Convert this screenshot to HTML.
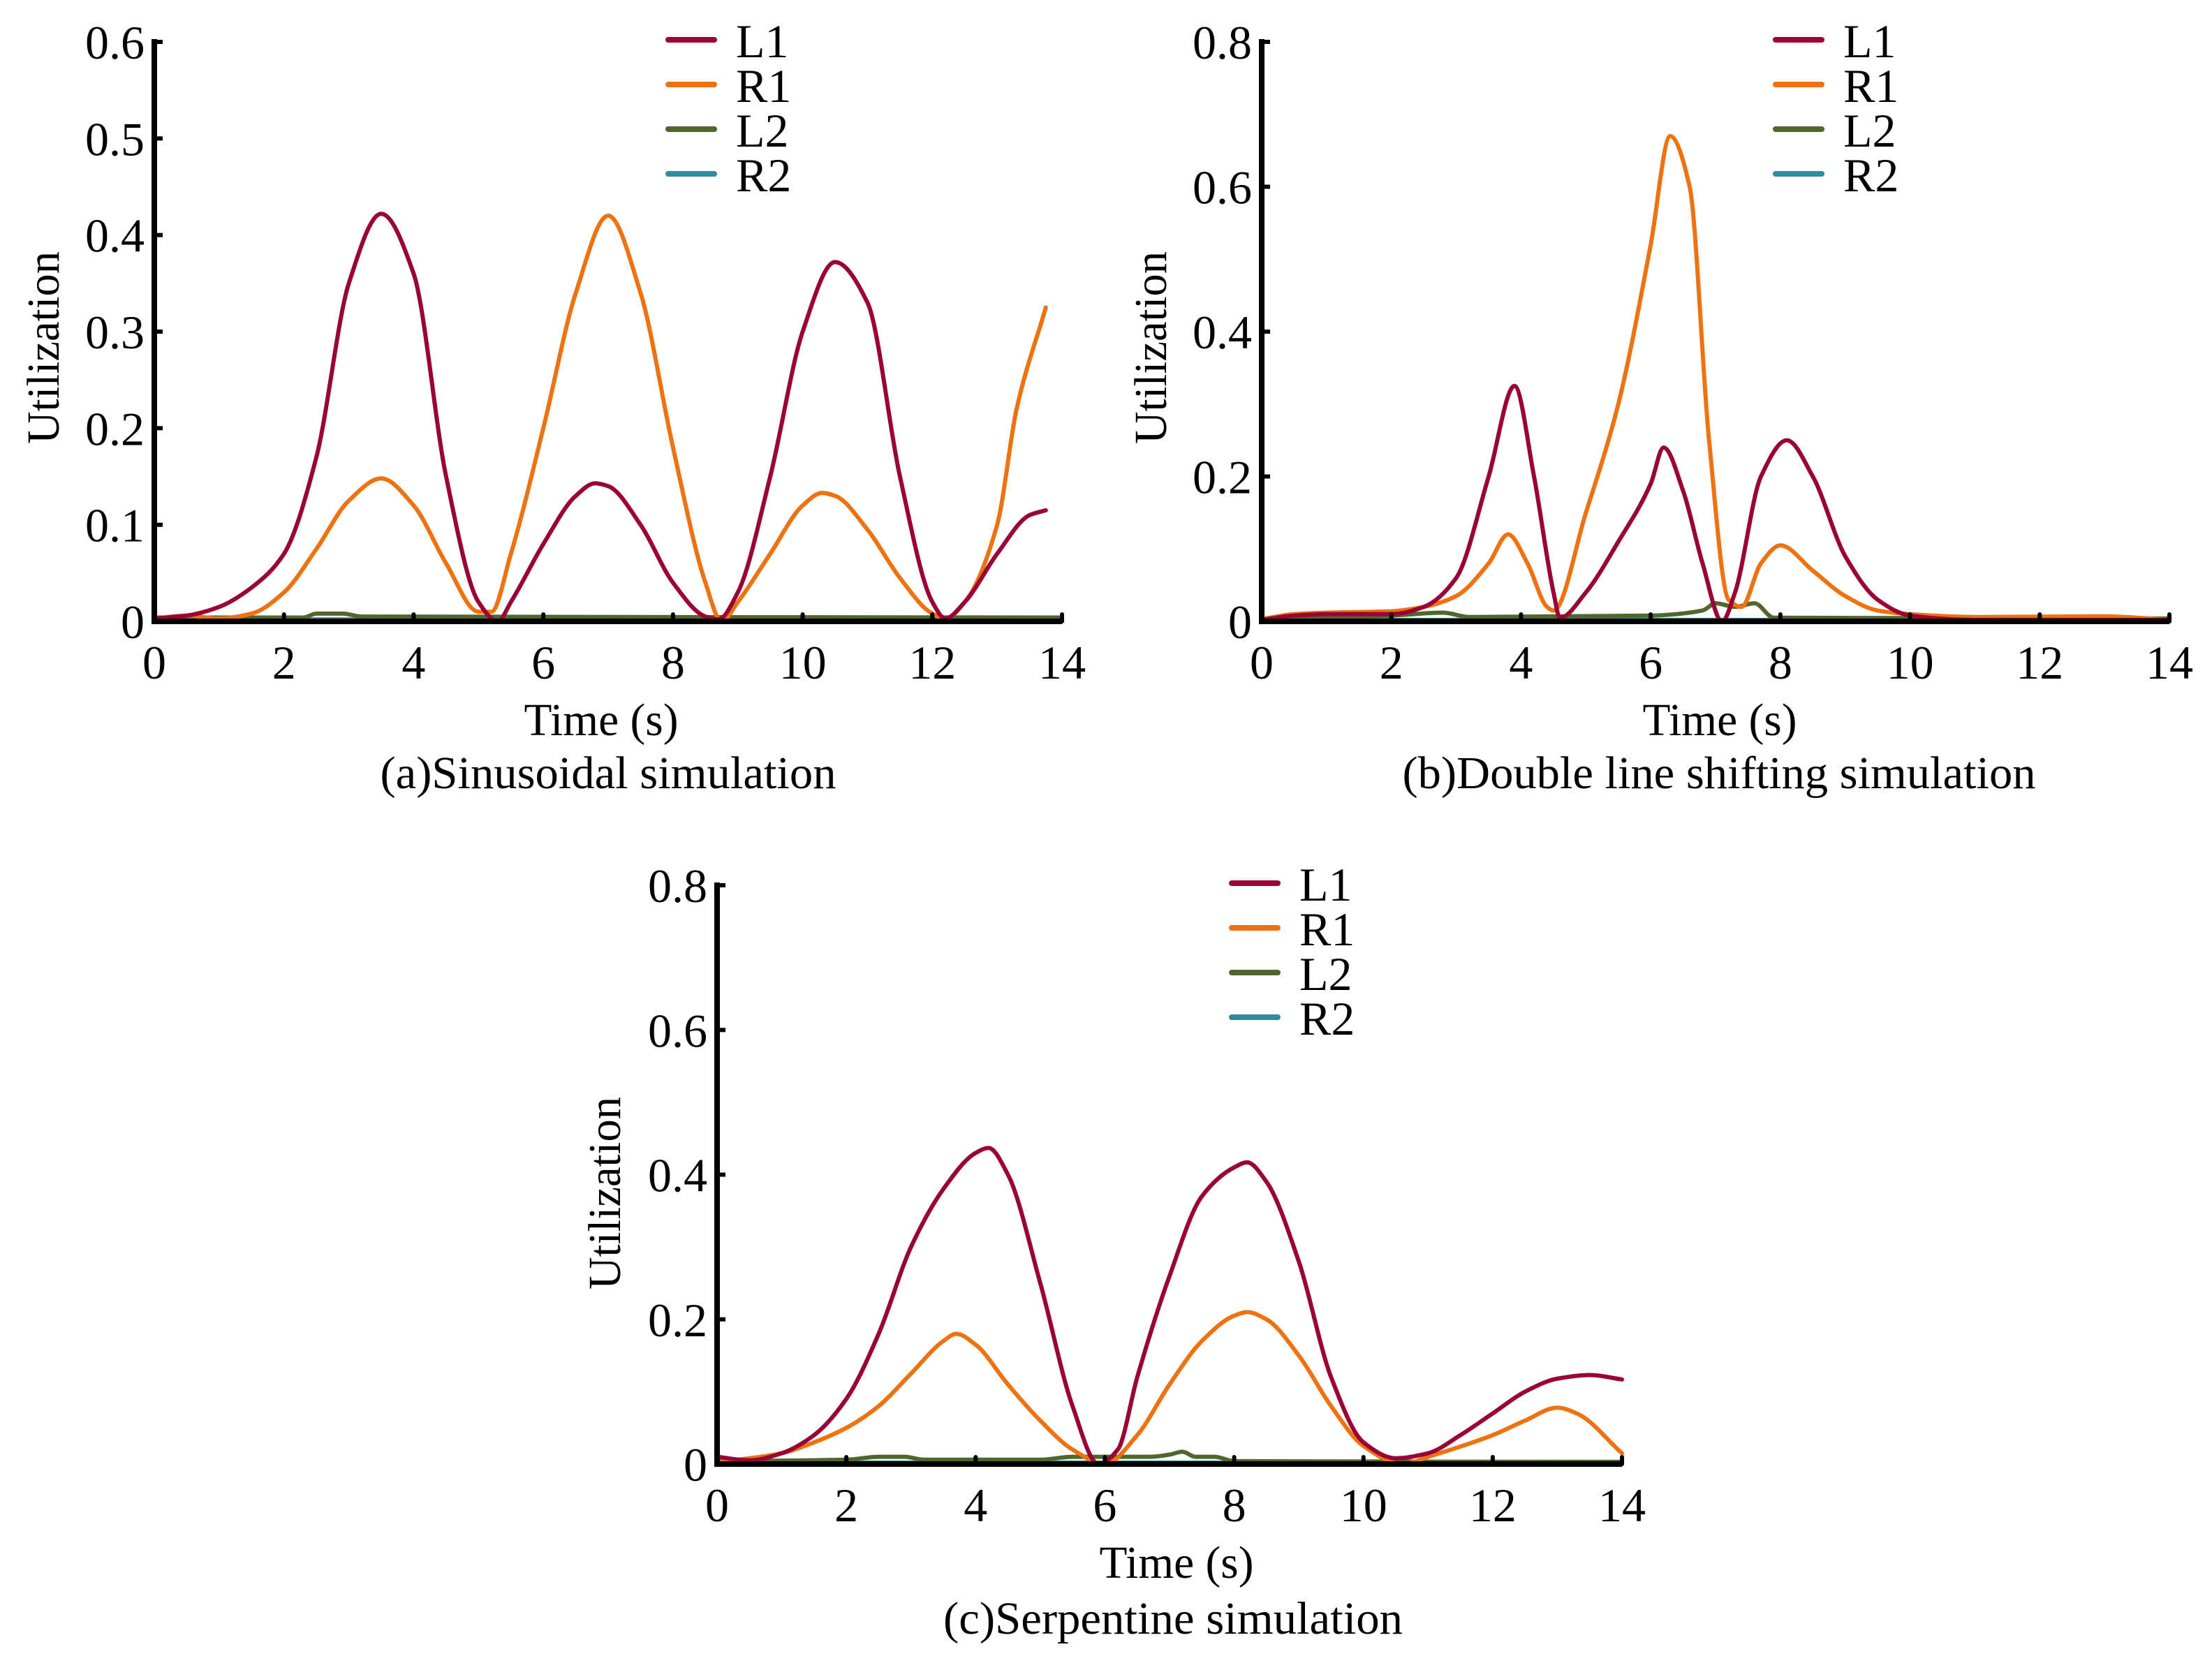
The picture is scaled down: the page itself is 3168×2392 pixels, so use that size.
<!DOCTYPE html>
<html><head><meta charset="utf-8"><style>
html,body{margin:0;padding:0;background:#fff;}
svg{display:block;}
text{font-family:"Liberation Serif",serif;fill:#000;}
</style></head><body>
<svg id="fig" width="3168" height="2392" viewBox="0 0 3168 2392" xmlns="http://www.w3.org/2000/svg"></svg>
<script>
// ---- Panel (a) data ----
const aT_L1=[0,0.5,1,1.5,2,2.5,3,3.5,4,4.5,5,5.3,5.5,6,6.5,6.8,7,7.5,8,8.5,8.7,9,9.5,10,10.5,11,11.5,12,12.2,12.5,13,13.5,13.75];
const aV_L1=[0.003,0.006,0.015,0.035,0.07,0.17,0.35,0.422,0.36,0.15,0.02,0.0,0.02,0.08,0.13,0.143,0.14,0.1,0.04,0.005,0.002,0.03,0.15,0.3,0.372,0.33,0.15,0.02,0.003,0.02,0.07,0.11,0.115];
const aT_R1=[0,0.5,1,1.5,2,2.5,3,3.5,4,4.5,5,5.2,5.5,6,6.5,7,7.5,8,8.5,8.75,9,9.5,10,10.3,10.5,11,11.5,12,12.2,12.5,13,13.3,13.75];
const aV_R1=[0.003,0.006,0.003,0.008,0.03,0.075,0.125,0.148,0.12,0.06,0.01,0.01,0.07,0.2,0.34,0.42,0.34,0.18,0.04,0.0,0.02,0.07,0.12,0.133,0.13,0.095,0.045,0.008,0.003,0.02,0.1,0.22,0.325];
const aT_L2=[0,2.3,2.5,2.9,3.2,14];
const aV_L2=[0.004,0.004,0.008,0.008,0.005,0.004];
const aT_R2=[0,14];
const aV_R2=[0.002,0.002];
const aYTicks=[0,0.1,0.2,0.3,0.4,0.5,0.6];
const aYLabels=["0","0.1","0.2","0.3","0.4","0.5","0.6"];
// ---- Panel (b) data ----
const bT_L1=[0,0.5,1,2,2.5,3,3.5,3.9,4.2,4.5,4.6,5,5.5,6,6.2,6.5,6.8,7.1,7.3,7.7,8.1,8.5,9,9.5,10,11,14];
const bV_L1=[0.002,0.008,0.01,0.01,0.02,0.06,0.2,0.325,0.2,0.04,0.005,0.04,0.11,0.19,0.24,0.18,0.08,0.0,0.04,0.2,0.25,0.2,0.09,0.03,0.008,0.002,0.002];
const bT_R1=[0,0.5,1,2,2.5,3,3.5,3.8,4.1,4.4,4.5,5,5.5,6,6.3,6.6,6.9,7.2,7.4,7.7,8,8.5,9,9.5,10,11,13,14];
const bV_R1=[0.003,0.01,0.012,0.014,0.02,0.035,0.08,0.12,0.08,0.02,0.015,0.15,0.3,0.52,0.67,0.6,0.25,0.03,0.02,0.08,0.105,0.07,0.035,0.015,0.01,0.006,0.007,0.002];
const bT_L2=[0,2,2.8,3.2,6,6.8,7,7.3,7.6,7.9,14];
const bV_L2=[0.003,0.008,0.012,0.006,0.008,0.015,0.025,0.02,0.025,0.005,0.004];
const bT_R2=[0,14];
const bV_R2=[0.002,0.002];
const bYTicks=[0,0.2,0.4,0.6,0.8];
const bYLabels=["0","0.2","0.4","0.6","0.8"];
// ---- Panel (c) data ----
const cT_L1=[0,0.5,1,1.5,2,2.5,3,3.5,4,4.2,4.5,5,5.5,5.9,6.2,6.5,7,7.5,8,8.2,8.5,9,9.5,10,10.5,11,11.5,12,12.5,13,13.5,14];
const cV_L1=[0.01,0.005,0.015,0.04,0.09,0.18,0.3,0.38,0.43,0.437,0.4,0.25,0.08,0.0,0.02,0.12,0.26,0.37,0.41,0.417,0.39,0.28,0.12,0.03,0.008,0.015,0.04,0.07,0.1,0.118,0.123,0.117];
const cT_R1=[0,0.5,1,1.5,2,2.5,3,3.5,3.7,4,4.5,5,5.5,6,6.5,7,7.5,8,8.2,8.5,9,9.5,10,10.6,11,12,12.5,13,13.3,14];
const cV_R1=[0.003,0.008,0.015,0.03,0.05,0.08,0.125,0.17,0.18,0.165,0.11,0.06,0.02,0.0,0.04,0.11,0.17,0.205,0.21,0.2,0.15,0.08,0.025,0.0,0.01,0.04,0.06,0.078,0.07,0.015];
const cT_L2=[0,2,2.5,2.9,3.2,5,5.5,6.7,7,7.2,7.4,7.7,8,14];
const cV_L2=[0.004,0.006,0.01,0.01,0.006,0.006,0.01,0.01,0.013,0.017,0.01,0.01,0.004,0.003];
const cT_R2=[0,14];
const cV_R2=[0.002,0.002];
const cYTicks=[0,0.2,0.4,0.6,0.8];
const cYLabels=["0","0.2","0.4","0.6","0.8"];
const xTicks=[0,2,4,6,8,10,12,14];
const xLabels=["0","2","4","6","8","10","12","14"];
const seriesNames=["L1","R1","L2","R2"];
const colors={L1:"#9a0235",R1:"#ee7210",L2:"#52662c",R2:"#318b9d"};

const NS="http://www.w3.org/2000/svg";
const svg=document.getElementById('fig');
function el(tag,attrs,parent){const e=document.createElementNS(NS,tag);for(const k in attrs)e.setAttribute(k,attrs[k]);(parent||svg).appendChild(e);return e;}
// monotone cubic (Fritsch-Carlson) path in pixel space
function smooth(pts){
  const n=pts.length;
  let d="M"+pts[0][0].toFixed(1)+","+pts[0][1].toFixed(1);
  if(n<3){for(let i=1;i<n;i++)d+=" L"+pts[i][0].toFixed(1)+","+pts[i][1].toFixed(1);return d;}
  const dx=[],s=[];
  for(let i=0;i<n-1;i++){dx.push(pts[i+1][0]-pts[i][0]);s.push((pts[i+1][1]-pts[i][1])/dx[i]);}
  const m=new Array(n);
  m[0]=s[0];m[n-1]=s[n-2];
  for(let i=1;i<n-1;i++){
    if(s[i-1]*s[i]<=0)m[i]=0;
    else{const w1=2*dx[i]+dx[i-1],w2=dx[i]+2*dx[i-1];m[i]=(w1+w2)/(w1/s[i-1]+w2/s[i]);}
  }
  for(let i=0;i<n-1;i++){
    const h=dx[i]/3;
    const c1=[pts[i][0]+h,pts[i][1]+m[i]*h];
    const c2=[pts[i+1][0]-h,pts[i+1][1]-m[i+1]*h];
    d+=" C"+c1[0].toFixed(1)+","+c1[1].toFixed(1)+" "+c2[0].toFixed(1)+","+c2[1].toFixed(1)+" "+pts[i+1][0].toFixed(1)+","+pts[i+1][1].toFixed(1);
  }
  return d;
}
function panel(cfg){
  const g=el('g',{});
  
  
  const xs=v=>cfg.x0+(v/14)*(cfg.x1-cfg.x0);
  const ys=v=>cfg.y0-(v/cfg.ymax)*(cfg.y0-cfg.ytop);
  const data={L1:[cfg.tL1,cfg.vL1],R1:[cfg.tR1,cfg.vR1],L2:[cfg.tL2,cfg.vL2],R2:[cfg.tR2,cfg.vR2]};
  ["R2","L2","R1","L1"].forEach(n=>{
    const [T,V]=data[n];
    const pts=T.map((t,i)=>[xs(t),ys(V[i])]);
    const p=el('path',{d:smooth(pts),fill:"none",stroke:colors[n],"stroke-width":6,"stroke-linejoin":"round","stroke-linecap":"round"},g);
    
    
  });
  const ya=el('line',{x1:cfg.x0,y1:cfg.y0+4,x2:cfg.x0,y2:ys(cfg.ymax)-4,stroke:"#000","stroke-width":8},g);
  
  
  const xa=el('line',{x1:cfg.x0-4,y1:cfg.y0,x2:cfg.x1,y2:cfg.y0,stroke:"#000","stroke-width":8},g);
  
  
  xTicks.forEach((v,i)=>{
    const x=xs(v);
    if(i>0){const tk=el('line',{x1:x,y1:cfg.y0,x2:x,y2:cfg.y0-10,stroke:"#000","stroke-width":6,"stroke-linecap":"round"},g);
      
      }
    const t=el('text',{x:x,y:cfg.y0+82,"font-size":68,"text-anchor":"middle"},g);
    t.textContent=xLabels[i];
    
    
  });
  cfg.yt.forEach((v,i)=>{
    const y=ys(v);
    if(i>0){const tk=el('line',{x1:cfg.x0,y1:y,x2:cfg.x0+12,y2:y,stroke:"#000","stroke-width":6},g);
      
      }
    const t=el('text',{x:cfg.x0-14,y:y+24,"font-size":68,"text-anchor":"end"},g);
    t.textContent=cfg.yl[i];
    
    
  });
  const yl=el('text',{x:0,y:0,"font-size":66,"text-anchor":"middle",textLength:276,lengthAdjust:"spacingAndGlyphs",transform:"translate("+(cfg.ylx)+","+cfg.yly+") rotate(-90)"},g);
  yl.textContent="Utilization";
  
  
  const xl=el('text',{x:cfg.xlx,y:cfg.xly,"font-size":66,"text-anchor":"middle",textLength:221,lengthAdjust:"spacingAndGlyphs"},g);
  xl.textContent="Time (s)";
  
  
  const cap=el('text',{x:cfg.capx,y:cfg.capy,"font-size":66,"text-anchor":"middle",textLength:cfg.capw,lengthAdjust:"spacingAndGlyphs"},g);
  cap.textContent=cfg.cap;
  
  
  seriesNames.forEach((n,i)=>{
    const y=cfg.ly+i*64;
    const ln=el('line',{x1:cfg.lx,y1:y,x2:cfg.lx+66,y2:y,stroke:colors[n],"stroke-width":8,"stroke-linecap":"round"},g);
    
    
    const t=el('text',{x:cfg.lx+97,y:y+25,"font-size":68},g);
    t.textContent=n;
    
    
  });
}
panel({id:"a",x0:221,x1:1521,y0:890,ytop:60,ymax:0.6,yt:aYTicks,yl:aYLabels,
  tL1:aT_L1,vL1:aV_L1,tR1:aT_R1,vR1:aV_R1,tL2:aT_L2,vL2:aV_L2,tR2:aT_R2,vR2:aV_R2,
  ylx:84,yly:498,xlx:861,xly:1053,capx:871,capy:1129,capw:653,cap:"(a)Sinusoidal simulation",lx:957,ly:57});
panel({id:"b",x0:1807,x1:3107,y0:890,ytop:60,ymax:0.8,yt:bYTicks,yl:bYLabels,
  tL1:bT_L1,vL1:bV_L1,tR1:bT_R1,vR1:bV_R1,tL2:bT_L2,vL2:bV_L2,tR2:bT_R2,vR2:bV_R2,
  ylx:1670,yly:498,xlx:2463,xly:1053,capx:2462,capy:1129,capw:907,cap:"(b)Double line shifting simulation",lx:2543,ly:57});
panel({id:"c",x0:1027,x1:2323,y0:2097,ytop:1268,ymax:0.8,yt:cYTicks,yl:cYLabels,
  tL1:cT_L1,vL1:cV_L1,tR1:cT_R1,vR1:cV_R1,tL2:cT_L2,vL2:cV_L2,tR2:cT_R2,vR2:cV_R2,
  ylx:888,yly:1709,xlx:1685,xly:2260,capx:1680,capy:2340,capw:658,cap:"(c)Serpentine simulation",lx:1764,ly:1265});
</script>
</body></html>
